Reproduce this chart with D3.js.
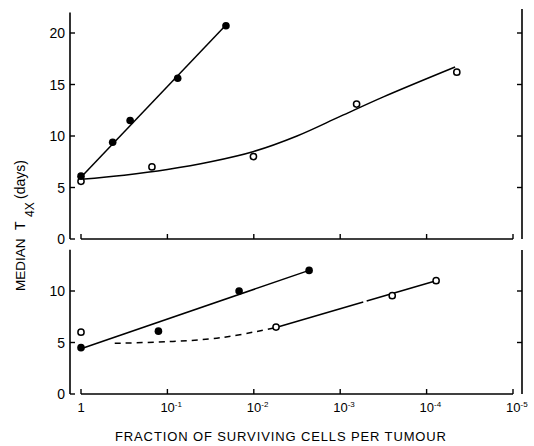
<!DOCTYPE html>
<html><head><meta charset="utf-8">
<script src="https://cdn.jsdelivr.net/npm/d3@7"></script>
<style>
body{margin:0;background:#fff;}
svg{display:block;font-family:"Liberation Sans",Arial,Helvetica,sans-serif;}
</style></head><body>
<svg id="c" width="534" height="446"></svg>
<script>
// ---- data ----
const xTicks = [1, 1e-1, 1e-2, 1e-3, 1e-4, 1e-5];
const xTickBase = ["1", "10", "10", "10", "10", "10"];
const xTickExp = ["", "-1", "-2", "-3", "-4", "-5"];
const topYTicks = [0, 5, 10, 15, 20];
const botYTicks = [0, 5, 10];

// top panel
const topFilledX = [1, 0.43, 0.27, 0.076, 0.021];
const topFilledY = [6.1, 9.4, 11.5, 15.6, 20.7];
const topFitX = [1, 0.0214];
const topFitY = [6.0, 20.7];
const topOpenX = [1, 0.151, 0.0101, 0.000646, 0.0000447];
const topOpenY = [5.6, 7.0, 8.0, 13.1, 16.2];
const topCurveX = [1, 0.316, 0.1, 0.0316, 0.01, 0.00316, 0.001, 0.000316, 0.0000468];
const topCurveY = [5.8, 6.2, 6.75, 7.5, 8.5, 10.0, 11.9, 13.8, 16.7];

// bottom panel
const botFilledX = [1, 0.127, 0.0148, 0.00229];
const botFilledY = [4.5, 6.1, 10.0, 12.0];
const botFitX = [1, 0.00229];
const botFitY = [4.4, 12.0];
const botOpenX = [1, 0.00553, 0.00025, 0.0000776];
const botOpenY = [6.0, 6.5, 9.55, 11.0];
const botDashX = [0.407, 0.1, 0.0316, 0.0158, 0.0089, 0.00553];
const botDashY = [4.92, 5.08, 5.35, 5.7, 6.1, 6.45];
const botSolid1X = [0.00553, 0.000541];
const botSolid1Y = [6.45, 8.93];
const botSolid2X = [0.000494, 0.0000776];
const botSolid2Y = [9.03, 11.0];

// ---- scales ----
const svg = d3.select("#c");
const x = d3.scaleLog().domain([1, 1e-5]).range([81, 513]);
const yTop = d3.scaleLinear().domain([0, 20]).range([239, 33]);
const yBot = d3.scaleLinear().domain([0, 10]).range([394, 291]);

const zip = (a, b) => a.map((v, i) => [v, b[i]]);

function panel(y, yTicks, yMax, rightTop) {
  const g = svg.append("g");
  const y0 = y(0);
  g.append("line").attr("x1", 70).attr("x2", 70).attr("y1", y(yMax)).attr("y2", y0)
    .attr("stroke", "#000").attr("stroke-width", 1.6);
  yTicks.forEach(t => {
    g.append("line").attr("x1", 70).attr("x2", 75).attr("y1", y(t)).attr("y2", y(t))
      .attr("stroke", "#000").attr("stroke-width", 1.4);
    g.append("text").attr("x", 65).attr("y", y(t) + 5).attr("text-anchor", "end")
      .attr("font-size", 14).text(t);
  });
  g.append("line").attr("x1", 522).attr("x2", 522).attr("y1", rightTop).attr("y2", y0)
    .attr("stroke", "#000").attr("stroke-width", 1.6);
  yTicks.filter(t => t > 0).forEach(t => {
    g.append("line").attr("x1", 517).attr("x2", 522).attr("y1", y(t)).attr("y2", y(t))
      .attr("stroke", "#000").attr("stroke-width", 1.4);
  });
  g.append("line").attr("x1", x(1)).attr("x2", x(1e-5)).attr("y1", y0).attr("y2", y0)
    .attr("stroke", "#000").attr("stroke-width", 1.4);
  xTicks.forEach(t => {
    g.append("line").attr("x1", x(t)).attr("x2", x(t)).attr("y1", y0).attr("y2", y0 - 5)
      .attr("stroke", "#000").attr("stroke-width", 1.4);
  });
  return g;
}

const gTop = panel(yTop, topYTicks, 22, 9);
const gBot = panel(yBot, botYTicks, 14, 250);

function line(g, y, xs, ys, curve, dash) {
  const l = d3.line().x(d => x(d[0])).y(d => y(d[1])).curve(curve || d3.curveLinear);
  const p = g.append("path").attr("d", l(zip(xs, ys))).attr("fill", "none")
    .attr("stroke", "#000").attr("stroke-width", 1.5);
  if (dash) p.attr("stroke-dasharray", dash);
}
function filled(g, y, xs, ys) {
  g.selectAll(null).data(zip(xs, ys)).enter().append("circle")
    .attr("cx", d => x(d[0])).attr("cy", d => y(d[1])).attr("r", 3.8).attr("fill", "#000");
}
function open(g, y, xs, ys) {
  g.selectAll(null).data(zip(xs, ys)).enter().append("circle")
    .attr("cx", d => x(d[0])).attr("cy", d => y(d[1])).attr("r", 3.1)
    .attr("fill", "#fff").attr("stroke", "#000").attr("stroke-width", 1.5);
}

line(gTop, yTop, topFitX, topFitY);
line(gTop, yTop, topCurveX, topCurveY, d3.curveCatmullRom.alpha(0.5));
open(gTop, yTop, topOpenX, topOpenY);
filled(gTop, yTop, topFilledX, topFilledY);

line(gBot, yBot, botFitX, botFitY);
line(gBot, yBot, botDashX, botDashY, d3.curveCatmullRom.alpha(0.5), "6,5");
line(gBot, yBot, botSolid1X, botSolid1Y);
line(gBot, yBot, botSolid2X, botSolid2Y);
open(gBot, yBot, botOpenX, botOpenY);
filled(gBot, yBot, botFilledX, botFilledY);

xTicks.forEach((t, i) => {
  const tx = svg.append("text").attr("y", 412).attr("font-size", 13);
  if (xTickExp[i] === "") {
    tx.attr("x", x(t)).attr("text-anchor", "middle").text(xTickBase[i]);
  } else {
    tx.attr("x", x(t) - 7);
    tx.append("tspan").text(xTickBase[i]);
    tx.append("tspan").attr("font-size", 8).attr("dy", -5).text(xTickExp[i]);
  }
});

svg.append("text").attr("x", 115).attr("y", 441).attr("font-size", 13)
  .attr("textLength", 331).attr("lengthAdjust", "spacing")
  .text("FRACTION OF SURVIVING CELLS PER TUMOUR");

// y-axis title, pieces placed along the rotated baseline
const ylab = (tx, ty, s, fs) => {
  svg.append("text").attr("transform", `translate(${tx},${ty}) rotate(-90)`)
    .attr("font-size", fs).text(s);
};
ylab(25, 291, "MEDIAN", 13.5);
ylab(25, 230, "T", 14);
ylab(34, 217, "4X", 12);
ylab(25, 199, "(days)", 14);
</script>
</body></html>
